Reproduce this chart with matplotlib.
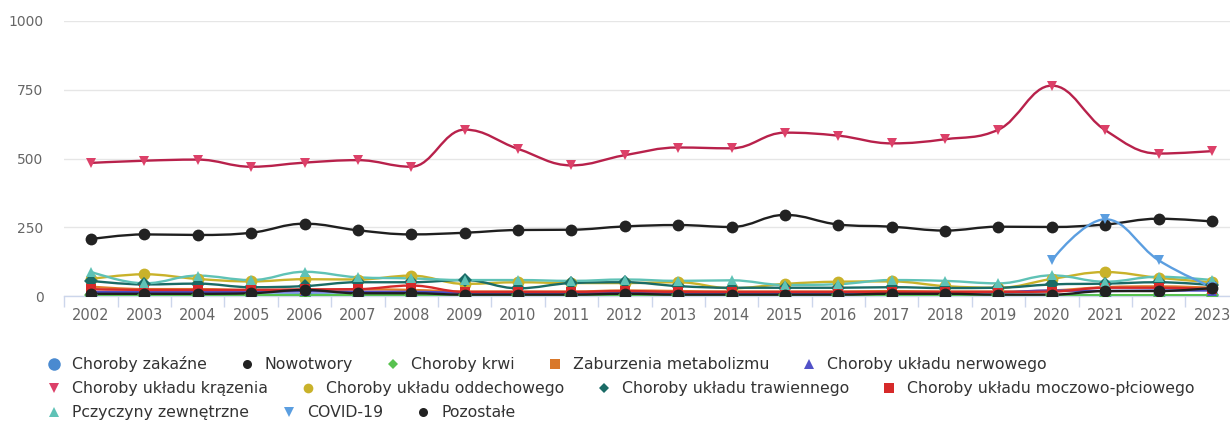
import numpy as np
import matplotlib.pyplot as plt
from matplotlib.path import Path
from matplotlib.patches import PathPatch
from matplotlib.lines import Line2D

plt.rcParams["font.family"] = ["DejaVu Sans"]

years = list(range(2002, 2024))

zakazne = [5, 5, 5, 5, 6, 5, 5, 4, 4, 4, 5, 4, 4, 4, 4, 5, 5, 4, 4, 3, 3, 3]
nowotwory = [207, 224, 222, 230, 263, 239, 224, 230, 240, 241, 253, 258, 251, 295,
             260, 252, 238, 252, 251, 260, 281, 271]
krwi = [3, 3, 3, 3, 3, 3, 3, 2, 2, 2, 2, 2, 2, 2, 2, 2, 2, 2, 2, 3, 3, 3]
metabolizm = [34, 25, 25, 22, 22, 24, 22, 16, 16, 16, 20, 18, 16, 16, 16, 18, 16, 16,
              20, 32, 35, 30]
nerwowy = [15, 15, 15, 15, 17, 15, 15, 12, 12, 12, 12, 12, 12, 12, 12, 14, 14, 14,
           20, 18, 20, 20]
krazenia = [484, 492, 496, 470, 485, 494, 470, 605, 535, 475, 512, 540, 537, 594,
            583, 555, 570, 605, 765, 603, 518, 527]
oddechowy = [62, 79, 62, 53, 61, 60, 74, 44, 50, 47, 47, 50, 28, 44, 52, 53, 36, 30,
             62, 87, 66, 50]
trawienny = [55, 42, 45, 32, 36, 50, 50, 58, 28, 47, 50, 36, 30, 30, 30, 32, 29, 30,
             42, 45, 50, 40]
moczowo = [25, 22, 22, 22, 24, 25, 38, 15, 15, 15, 18, 15, 15, 15, 15, 15, 15, 15,
           16, 30, 30, 25]
zewnetrzne = [88, 46, 74, 58, 88, 68, 64, 58, 58, 55, 60, 55, 57, 40, 43, 58, 55, 46,
              75, 52, 70, 58]
covid = [np.nan] * 18 + [130, 279, 130, 32]
pozostale = [8, 8, 8, 10, 22, 10, 10, 5, 5, 5, 8, 5, 5, 5, 5, 8, 8, 5, 5, 18, 18, 29]

# name, values, line colour, marker colour, marker, legend marker size
series = [
    ("Choroby zakaźne", zakazne, "#4a8ad0", "#4a8ad0", "o", 9),
    ("Nowotwory", nowotwory, "#1f1f1f", "#222222", "o", 6.5),
    ("Choroby krwi", krwi, "#58c24f", "#58c24f", "D", 5.5),
    ("Zaburzenia metabolizmu", metabolizm, "#e07b2a", "#d9782a", "s", 6.5),
    ("Choroby układu nerwowego", nerwowy, "#4b4bc4", "#5252c8", "^", 7.5),
    ("Choroby układu krązenia", krazenia, "#b8214b", "#dc4068", "v", 7.5),
    ("Choroby układu oddechowego", oddechowy, "#c9b22a", "#c9b22a", "o", 7),
    ("Choroby układu trawiennego", trawienny, "#1a6b66", "#1a6b66", "D", 5.5),
    ("Choroby układu moczowo-płciowego", moczowo, "#d62a2a", "#d62a2a", "s", 7),
    ("Pczyczyny zewnętrzne", zewnetrzne, "#5fc2b6", "#5fc2b6", "^", 7.5),
    ("COVID-19", covid, "#5b9ee0", "#5b9ee0", "v", 7.5),
    ("Pozostałe", pozostale, "#1f1f1f", "#222222", "o", 6.5),
]

legend_rows = [
    [0, 1, 2, 3, 4],
    [5, 6, 7, 8],
    [9, 10, 11],
]


def spline_path(xs, ys, smoothing=1.5):
    """Cubic bezier path through the points, Highcharts-style control points."""
    n = len(xs)
    right = [None] * n
    left = [None] * n
    denom = smoothing + 1
    for i in range(1, n - 1):
        px, py = xs[i], ys[i]
        lx, ly = xs[i - 1], ys[i - 1]
        nx, ny = xs[i + 1], ys[i + 1]
        lcx = (smoothing * px + lx) / denom
        lcy = (smoothing * py + ly) / denom
        rcx = (smoothing * px + nx) / denom
        rcy = (smoothing * py + ny) / denom
        if rcx != lcx:
            corr = (rcy - lcy) * (rcx - px) / (rcx - lcx) + py - rcy
            lcy += corr
            rcy += corr
        if lcy > ly and lcy > py:
            lcy = max(ly, py)
            rcy = 2 * py - lcy
        elif lcy < ly and lcy < py:
            lcy = min(ly, py)
            rcy = 2 * py - lcy
        if rcy > ny and rcy > py:
            rcy = max(ny, py)
            lcy = 2 * py - rcy
        elif rcy < ny and rcy < py:
            rcy = min(ny, py)
            lcy = 2 * py - rcy
        left[i] = (lcx, lcy)
        right[i] = (rcx, rcy)
    verts = [(xs[0], ys[0])]
    codes = [Path.MOVETO]
    for i in range(1, n):
        c1 = right[i - 1] or (xs[i - 1], ys[i - 1])
        c2 = left[i] or (xs[i], ys[i])
        verts += [c1, c2, (xs[i], ys[i])]
        codes += [Path.CURVE4] * 3
    return Path(verts, codes)


fig = plt.figure(figsize=(12.3, 4.21), dpi=100)
W, H = 1230, 421
ax = fig.add_axes([64.3 / W, (H - 296) / H, 1174.4 / W, 275 / H])

x = np.arange(len(years))
for name, vals, lc, mc, mk, _ in series:
    v = np.asarray(vals, dtype=float)
    ok = ~np.isnan(v)
    px, py = x[ok].astype(float), v[ok]
    ax.add_patch(PathPatch(spline_path(list(px), list(py)), facecolor="none",
                           edgecolor=lc, lw=1.7, zorder=3, capstyle="round"))
    ax.plot(px, py, ls="none", marker=mk, ms=8.5 if mk == "o" else 7.5,
            color=mc, mec=mc, mew=0, zorder=4)

ax.set_xlim(-0.5, len(years) - 0.5)
ax.set_ylim(0, 1000)
ax.set_yticks([0, 250, 500, 750, 1000])
ax.grid(axis="y", color="#e6e6e6", lw=1)
ax.set_axisbelow(True)
for s in ("top", "right", "left"):
    ax.spines[s].set_visible(False)
ax.spines["bottom"].set_color("#ccd6eb")
ax.spines["bottom"].set_linewidth(1)
ax.spines["bottom"].set_zorder(2.5)

ax.set_xticks(np.arange(len(years) + 1) - 0.5)
ax.set_xticklabels([])
ax.set_xticks(x, minor=True)
ax.set_xticklabels([str(y) for y in years], minor=True)
ax.tick_params(axis="x", which="major", length=8, color="#ccd6eb", width=1)
ax.tick_params(axis="x", which="minor", length=0, pad=9, labelsize=10.5,
               labelcolor="#666666")
ax.tick_params(axis="y", length=0, pad=15, labelsize=10, labelcolor="#666666")

# legend, laid out in pixel coordinates
lax = fig.add_axes([0, 0, 1, 1])
lax.set_xlim(0, W)
lax.set_ylim(H, 0)
lax.axis("off")
row_y = [364, 388, 412]
fig.canvas.draw()
renderer = fig.canvas.get_renderer()
for row, yy in zip(legend_rows, row_y):
    cx = 54
    for idx in row:
        name, _, lc, mc, mk, ms = series[idx]
        lax.add_line(Line2D([cx], [yy], ls="none", marker=mk, ms=ms, color=mc,
                            mew=0))
        t = lax.text(cx + 18, yy + 5, name, fontsize=11.3, color="#333333",
                     va="baseline", ha="left")
        bb = t.get_window_extent(renderer)
        cx = cx + 18 + bb.width + 40

fig.savefig("out.png", dpi=100)
